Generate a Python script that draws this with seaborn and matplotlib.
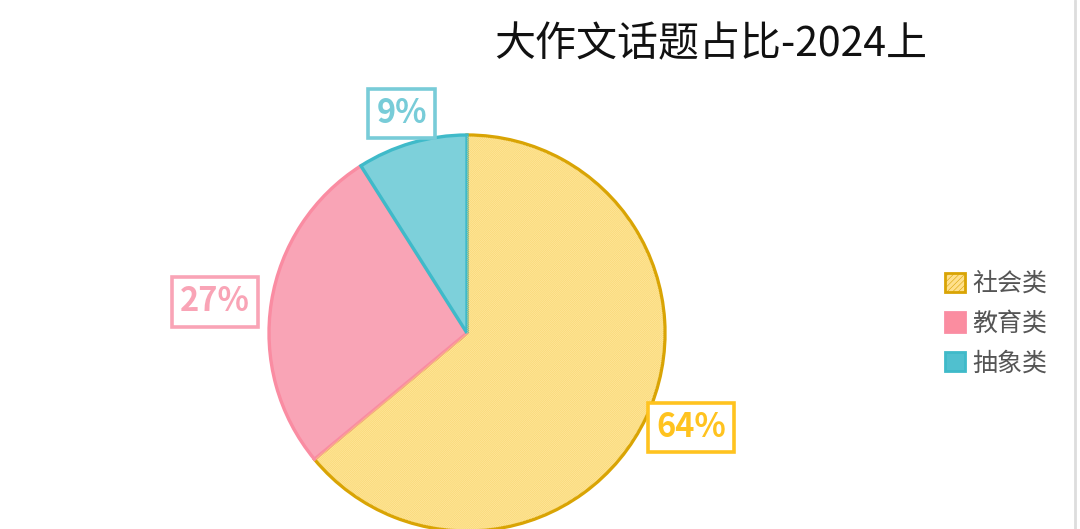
import matplotlib
matplotlib.use("Agg")
import numpy as np
import matplotlib.pyplot as plt
import seaborn as sns
from matplotlib.lines import Line2D
from matplotlib.patches import Patch

# data
categories = ["社会类", "教育类", "抽象类"]
shares = [64, 27, 9]
labels = ["64%", "27%", "9%"]
title = "大作文话题占比-2024上"

face_colors = ["#ffe698", "#f9a4b6", "#7dd0da"]
edge_colors = ["#d9a404", "#fa8ca2", "#3fbac9"]
label_colors = ["#ffc31f", "#f9a4b6", "#78ccd8"]
legend_faces = ["#ffe08c", "#fb8da0", "#50c0cf"]

sns.set_theme(style="white")
plt.rcParams["font.family"] = ["Noto Sans CJK SC", "DejaVu Sans"]
plt.rcParams["hatch.linewidth"] = 0.4

fig = plt.figure(figsize=(10.8, 5.29), dpi=100)
fig.patch.set_facecolor("white")

# pie axes placed so the circle sits left of centre and runs off the bottom
cx, cy, r = 467, 333, 198
ax = fig.add_axes([(cx - r) / 1080, (529 - cy - r) / 529, 2 * r / 1080, 2 * r / 529])

wedges, _ = ax.pie(shares, colors=face_colors, startangle=90, counterclock=False,
                   radius=1, wedgeprops=dict(linewidth=2.4))
for w, ec in zip(wedges, edge_colors):
    w.set_edgecolor(ec)
    w.set_clip_on(False)

# fine hatch on the yellow slice only
hatched, _ = ax.pie(shares, colors=["none"] * 3, startangle=90, counterclock=False,
                    radius=0.993, wedgeprops=dict(linewidth=0))
hatched[0].set_hatch("/" * 16)
hatched[0].set_edgecolor("#f8d572")
hatched[0].set_linewidth(0)
for w in hatched:
    w.set_clip_on(False)

ax.set_xlim(-1, 1)
ax.set_ylim(-1, 1)
ax.set_aspect("equal")
ax.axis("off")

# boxed percentage labels outside the slices
dists = [1.25, 1.29, 1.18]
shift = [0.055, -0.045, -0.025]
for w, lab, col, d, s in zip(wedges, labels, label_colors, dists, shift):
    ang = np.deg2rad((w.theta1 + w.theta2) / 2)
    ax.text(d * np.cos(ang), d * np.sin(ang) + s, lab, ha="center", va="center",
            fontsize=23.5, fontweight="bold", color=col,
            bbox=dict(boxstyle="square,pad=0.25", facecolor="white",
                      edgecolor=col, linewidth=2.6))

fig.text(0.658, 0.915, title, ha="center", va="center", fontsize=29.5,
         fontweight="medium", color="#111111")

handles = [Patch(facecolor=f, edgecolor=e, linewidth=2) for f, e in zip(legend_faces, edge_colors)]
handles[0].set_hatch("/" * 6)
fig.legend(handles, categories, loc="center left", bbox_to_anchor=(0.854, 0.388),
           frameon=False, fontsize=18, handlelength=0.8, handleheight=0.8,
           handletextpad=0.3, labelspacing=0.55, labelcolor="#555555")

fig.add_artist(Line2D([0.9955, 0.9955], [0, 1], color="#dddddd", linewidth=2,
                      transform=fig.transFigure))

fig.savefig("out.png", dpi=100, facecolor="white")
